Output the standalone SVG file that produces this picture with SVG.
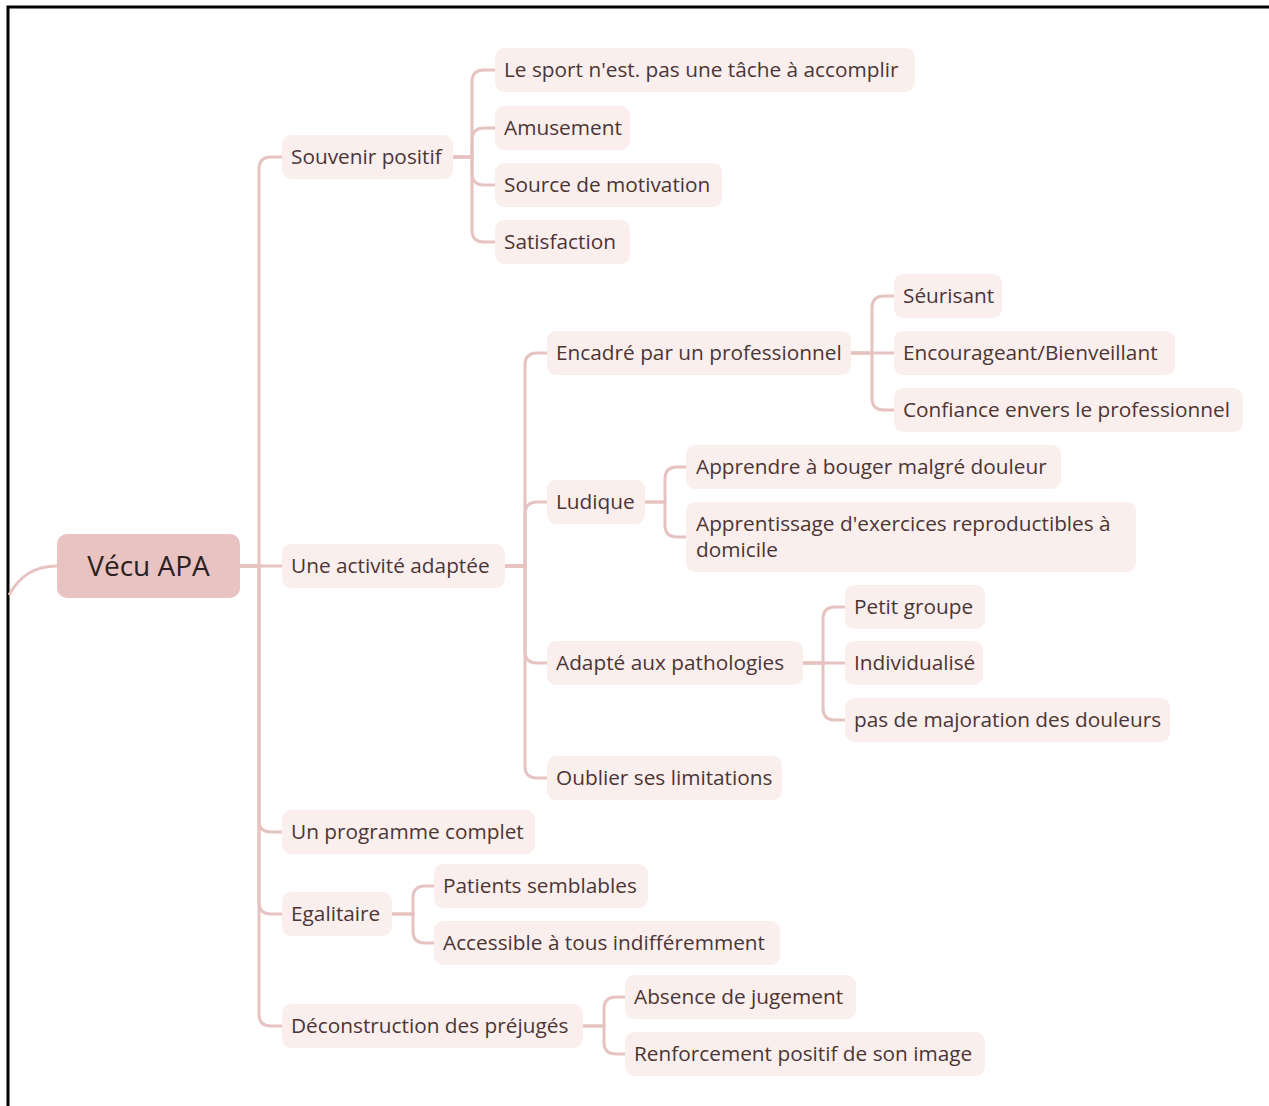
<svg xmlns="http://www.w3.org/2000/svg" width="1269" height="1106" viewBox="0 0 1269 1106">
<style>
.n rect{fill:#fbefee}
.n text{font-family:"Open Sans","Liberation Sans",sans-serif;font-size:20.8px;fill:#4b3535}
.c path{fill:none;stroke:#e6c3c0;stroke-width:3}
</style>
<rect width="1269" height="1106" fill="#fff"/>
<path d="M8 1106 V7 H1269" fill="none" stroke="#000" stroke-width="3"/>
<g class="c">
<path d="M9 595 C20 575 35 566 57 566"/>
<path d="M240 566 H259 V169 Q259 157 271 157 H282"/>
<path d="M240 566 H282"/>
<path d="M240 566 H259 V820 Q259 832 271 832 H282"/>
<path d="M240 566 H259 V902 Q259 914 271 914 H282"/>
<path d="M240 566 H259 V1014 Q259 1026 271 1026 H282"/>
<path d="M453 157 H472 V82 Q472 70 484 70 H495"/>
<path d="M453 157 H472 V140 Q472 128 484 128 H495"/>
<path d="M453 157 H472 V173 Q472 185 484 185 H495"/>
<path d="M453 157 H472 V230 Q472 242 484 242 H495"/>
<path d="M505 566 H525 V365 Q525 353 537 353 H547"/>
<path d="M505 566 H525 V514 Q525 502 537 502 H547"/>
<path d="M505 566 H525 V651 Q525 663 537 663 H547"/>
<path d="M505 566 H525 V766 Q525 778 537 778 H547"/>
<path d="M851 353 H872 V308 Q872 296 884 296 H894"/>
<path d="M851 353 H894"/>
<path d="M851 353 H872 V398 Q872 410 884 410 H894"/>
<path d="M645 502 H665 V479 Q665 467 677 467 H686"/>
<path d="M645 502 H665 V525 Q665 537 677 537 H686"/>
<path d="M803 663 H823 V619 Q823 607 835 607 H845"/>
<path d="M803 663 H845"/>
<path d="M803 663 H823 V708 Q823 720 835 720 H845"/>
<path d="M392 914 H413 V898 Q413 886 425 886 H434"/>
<path d="M392 914 H413 V931 Q413 943 425 943 H434"/>
<path d="M583 1026 H604 V1009 Q604 997 616 997 H625"/>
<path d="M583 1026 H604 V1042 Q604 1054 616 1054 H625"/>
</g>
<g id="root"><rect x="57" y="534" width="183" height="64" rx="10" fill="#e8c3c1"/><text x="148.5" y="576" text-anchor="middle" font-family="'Open Sans','Liberation Sans',sans-serif" font-size="28" fill="#2a2222">Vécu APA</text></g>
<g id="n1" class="n"><rect x="282" y="135" width="171" height="44" rx="9"/><text x="291" y="164">Souvenir positif</text></g>
<g id="n2" class="n"><rect x="282" y="544" width="223" height="44" rx="9"/><text x="291" y="573">Une activité adaptée</text></g>
<g id="n3" class="n"><rect x="282" y="810" width="253" height="44" rx="9"/><text x="291" y="839">Un programme complet</text></g>
<g id="n4" class="n"><rect x="282" y="892" width="110" height="44" rx="9"/><text x="291" y="921">Egalitaire</text></g>
<g id="n5" class="n"><rect x="282" y="1004" width="301" height="44" rx="9"/><text x="291" y="1033">Déconstruction des préjugés</text></g>
<g id="n11" class="n"><rect x="495" y="48" width="420" height="44" rx="9"/><text x="504" y="77">Le sport n'est. pas une tâche à accomplir</text></g>
<g id="n12" class="n"><rect x="495" y="106" width="135" height="44" rx="9"/><text x="504" y="135">Amusement</text></g>
<g id="n13" class="n"><rect x="495" y="163" width="227" height="44" rx="9"/><text x="504" y="192">Source de motivation</text></g>
<g id="n14" class="n"><rect x="495" y="220" width="135" height="44" rx="9"/><text x="504" y="249">Satisfaction</text></g>
<g id="n21" class="n"><rect x="547" y="331" width="304" height="44" rx="9"/><text x="556" y="360">Encadré par un professionnel</text></g>
<g id="n22" class="n"><rect x="547" y="480" width="98" height="44" rx="9"/><text x="556" y="509">Ludique</text></g>
<g id="n23" class="n"><rect x="547" y="641" width="256" height="44" rx="9"/><text x="556" y="670">Adapté aux pathologies</text></g>
<g id="n24" class="n"><rect x="547" y="756" width="235" height="44" rx="9"/><text x="556" y="785">Oublier ses limitations</text></g>
<g id="n211" class="n"><rect x="894" y="274" width="108" height="44" rx="9"/><text x="903" y="303">Séurisant</text></g>
<g id="n212" class="n"><rect x="894" y="331" width="281" height="44" rx="9"/><text x="903" y="360">Encourageant/Bienveillant</text></g>
<g id="n213" class="n"><rect x="894" y="388" width="349" height="44" rx="9"/><text x="903" y="417">Confiance envers le professionnel</text></g>
<g id="n221" class="n"><rect x="686" y="445" width="375" height="44" rx="9"/><text x="696" y="474">Apprendre à bouger malgré douleur</text></g>
<g id="n222" class="n"><rect x="686" y="502" width="450" height="70" rx="9"/><text x="696" y="531">Apprentissage d'exercices reproductibles à</text><text x="696" y="557">domicile</text></g>
<g id="n231" class="n"><rect x="845" y="585" width="140" height="44" rx="9"/><text x="854" y="614">Petit groupe</text></g>
<g id="n232" class="n"><rect x="845" y="641" width="138" height="44" rx="9"/><text x="854" y="670">Individualisé</text></g>
<g id="n233" class="n"><rect x="845" y="698" width="325" height="44" rx="9"/><text x="854" y="727">pas de majoration des douleurs</text></g>
<g id="n41" class="n"><rect x="434" y="864" width="214" height="44" rx="9"/><text x="443" y="893">Patients semblables</text></g>
<g id="n42" class="n"><rect x="434" y="921" width="346" height="44" rx="9"/><text x="443" y="950">Accessible à tous indifféremment</text></g>
<g id="n51" class="n"><rect x="625" y="975" width="231" height="44" rx="9"/><text x="634" y="1004">Absence de jugement</text></g>
<g id="n52" class="n"><rect x="625" y="1032" width="360" height="44" rx="9"/><text x="634" y="1061">Renforcement positif de son image</text></g>
</svg>
